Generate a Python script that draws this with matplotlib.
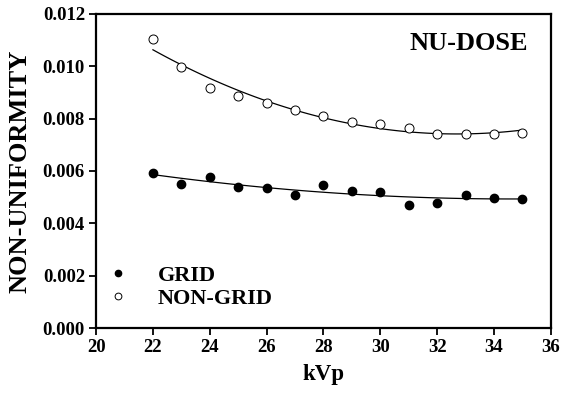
"""
NU-DOSE non-uniformity vs kVp, grid vs non-grid
"""

import numpy as np
import matplotlib
matplotlib.use('Agg')
import matplotlib.pyplot as plt

kvp = [22, 23, 24, 25, 26, 27, 28, 29, 30, 31, 32, 33, 34, 35]
grid = [0.00594, 0.00552, 0.00578, 0.00540, 0.00534, 0.00507, 0.00545,
        0.00525, 0.00521, 0.00470, 0.00479, 0.00507, 0.00498, 0.00494]
non_grid = [0.01104, 0.00998, 0.00918, 0.00887, 0.00861, 0.00833, 0.00810,
            0.00786, 0.00780, 0.00764, 0.00743, 0.00743, 0.00742, 0.00745]
x_ticks = [20, 22, 24, 26, 28, 30, 32, 34, 36]
y_ticks = [0.000, 0.002, 0.004, 0.006, 0.008, 0.010, 0.012]

plt.rcParams['font.family'] = ['Liberation Serif', 'DejaVu Serif']
plt.rcParams['font.weight'] = 'bold'

fig = plt.figure(figsize=(5.72, 3.94), dpi=100)
ax = fig.add_axes([0.168, 0.1675, 0.795, 0.797])

# second-order trend lines through each series
xs = np.linspace(kvp[0], kvp[-1], 100)
for ys in (grid, non_grid):
    coef = np.polyfit(kvp, ys, 2)
    ax.plot(xs, np.polyval(coef, xs), color='black', linewidth=0.9)

ax.plot(kvp, grid, 'o', color='black', markersize=6, label='GRID')
ax.plot(kvp, non_grid, 'o', markerfacecolor='white', markeredgecolor='black',
        markeredgewidth=0.7, markersize=6.5, label='NON-GRID')

ax.set_xlim(20, 36)
ax.set_ylim(0, 0.012)
ax.set_xticks(x_ticks)
ax.set_yticks(y_ticks)
ax.set_yticklabels([f'{v:.3f}' for v in y_ticks])
ax.tick_params(direction='out', length=5, width=1.3, labelsize=13.5, pad=3)
for s in ax.spines.values():
    s.set_linewidth(1.6)

ax.set_xlabel('kVp', fontsize=16.5, fontweight='bold', labelpad=6)
ax.set_ylabel('NON-UNIFORMITY', fontsize=19, fontweight='bold', labelpad=8)

ax.text(0.95, 0.905, 'NU-DOSE', transform=ax.transAxes, ha='right',
        va='center', fontsize=19, fontweight='bold')

leg = ax.legend(loc='lower left', bbox_to_anchor=(-0.011, 0.012), frameon=False,
                fontsize=16, markerscale=0.75, handlelength=1.0,
                handletextpad=1.3, labelspacing=0.1, borderaxespad=0.3)

plt.savefig('out.png', dpi=100)
plt.close(fig)
